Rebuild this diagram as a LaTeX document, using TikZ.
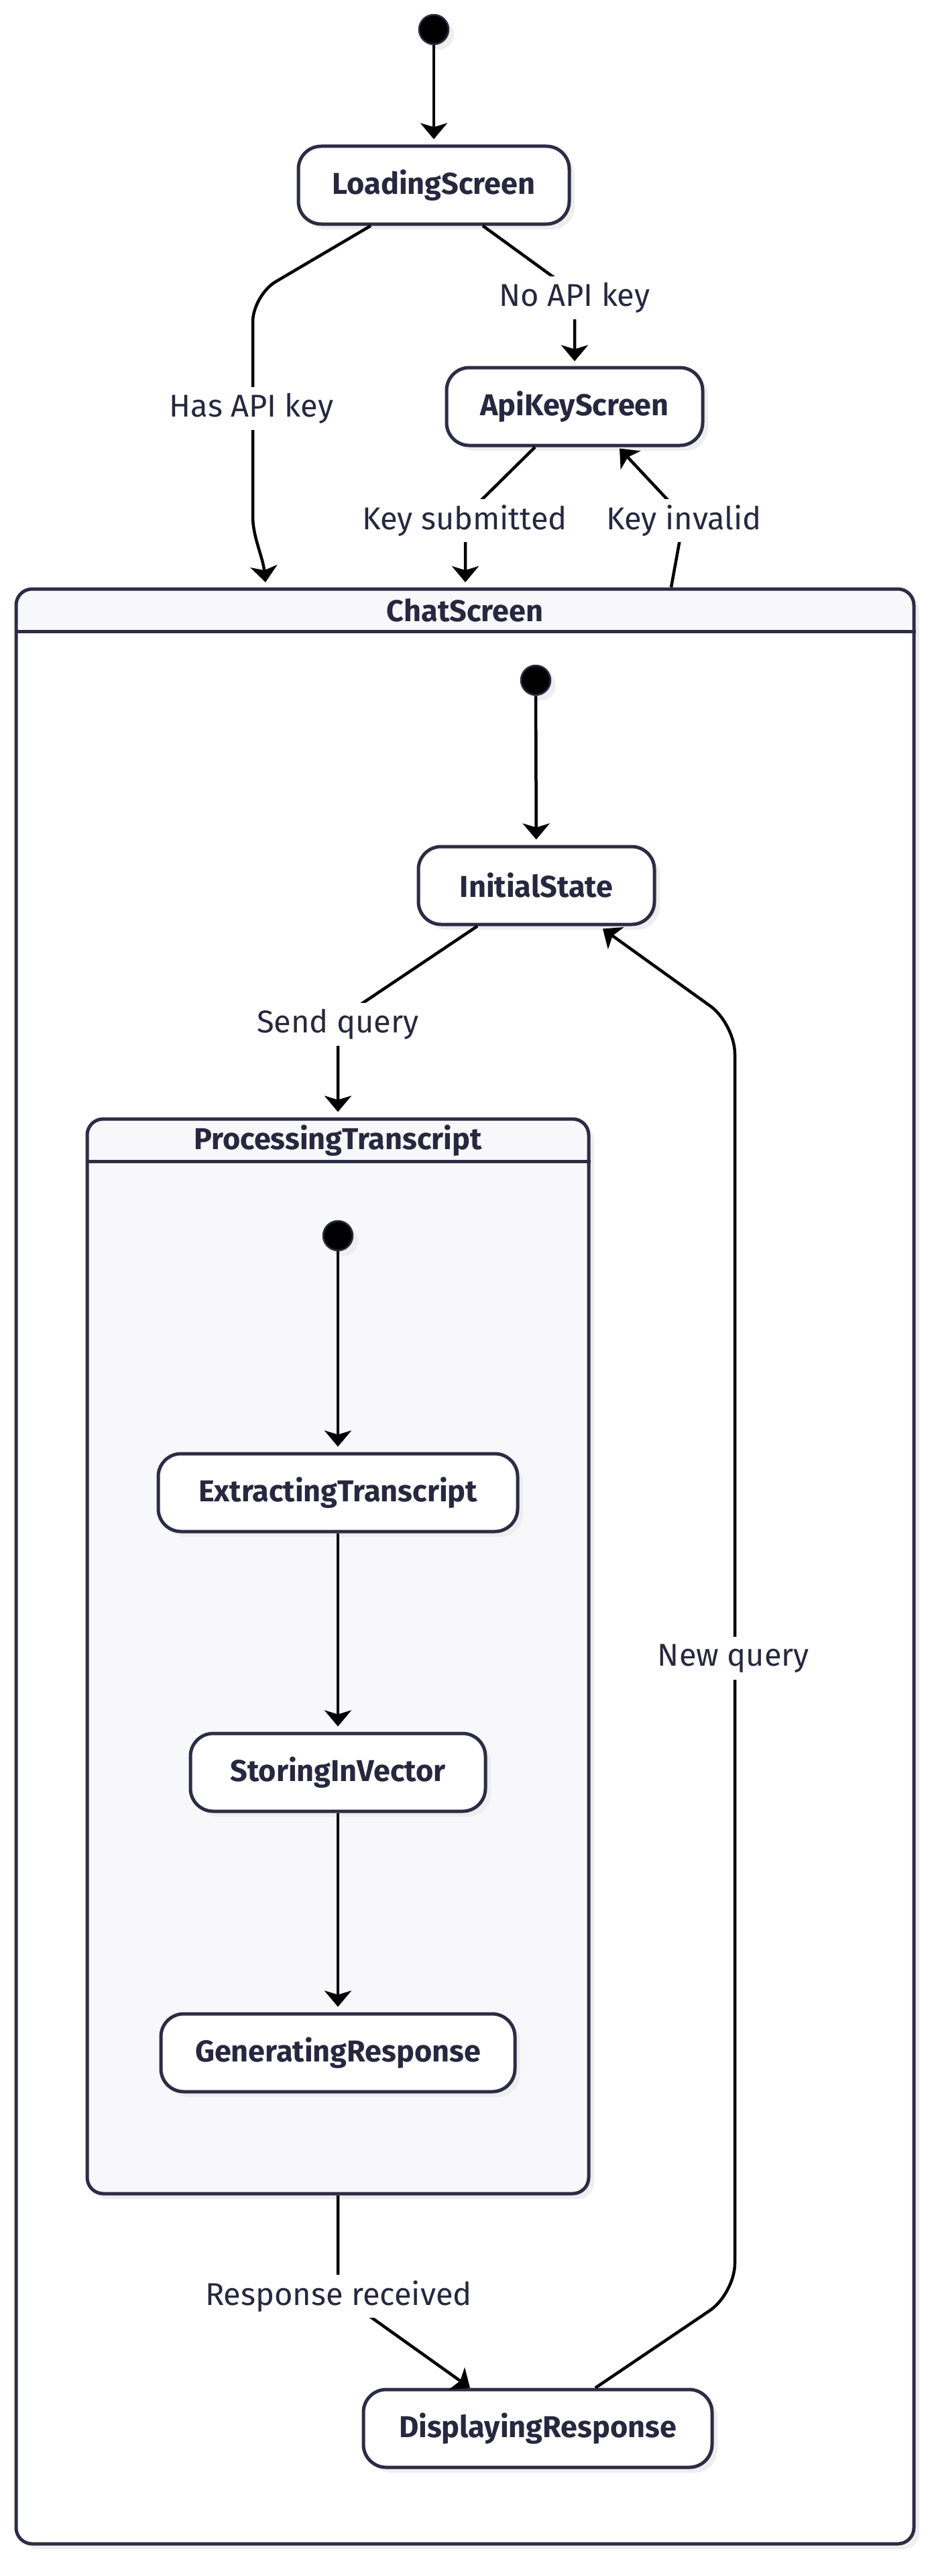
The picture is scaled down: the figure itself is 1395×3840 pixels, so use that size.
\documentclass[tikz,border=0pt]{standalone}
\usepackage{fontspec}
\setmainfont{Fira Sans}
\usetikzlibrary{arrows.meta,shadows,calc}
\definecolor{sc}{HTML}{2C2C44}
\definecolor{tc}{HTML}{27273F}
\definecolor{hdr}{HTML}{F8F8FA}
\definecolor{shc}{HTML}{EEEEEE}
\begin{document}
\begin{tikzpicture}[x=1pt,y=-1pt,
  shad/.style={drop shadow={shadow xshift=8pt,shadow yshift=-8pt,fill=shc,opacity=1}},
  st/.style={rectangle,draw=sc,line width=5pt,fill=white,rounded corners=34pt,inner sep=0pt,
    text=tc,font=\bfseries\fontsize{45}{52}\selectfont,minimum height=116pt,shad},
  init/.style={circle,fill=black,draw=sc,line width=2.5pt,minimum size=44pt,inner sep=0pt,shad},
  comp/.style={rectangle,draw=sc,line width=5pt,rounded corners=24pt,inner sep=0pt,shad},
  arr/.style={draw=black,line width=4.5pt,-{Stealth[length=24pt,width=40pt,inset=6pt]}},
  lbl/.style={fill=white,text=tc,font=\fontsize{47}{54}\selectfont,inner xsep=4pt,inner ysep=0pt,minimum height=64pt},
  ttl/.style={text=tc,font=\bfseries\fontsize{45}{52}\selectfont,inner sep=0pt}]
\useasboundingbox (0,0) rectangle (1395,3840);
\fill[white] (0,0) rectangle (1395,3840);

% composite ChatScreen
\node[comp,fill=white,minimum width=1339pt,minimum height=2914pt,
  path picture={\fill[hdr] (path picture bounding box.north west) rectangle ([yshift=-64pt]path picture bounding box.north east);}]
  (cs) at (693.5,2335) {};
\draw[sc,line width=5pt] ([yshift=-66pt]cs.north west) -- ([yshift=-66pt]cs.north east);
\node[ttl] (cst) at (693.5,910) {ChatScreen};

% composite ProcessingTranscript
\node[comp,fill=hdr,minimum width=748pt,minimum height=1602pt] (pt) at (504,2469) {};
\draw[sc,line width=5pt] ([yshift=-66pt]pt.north west) -- ([yshift=-66pt]pt.north east);
\node[ttl] (ptt) at (504,1700) {ProcessingTranscript};

% states
\node[init] (s1) at (647,44) {};
\node[st,minimum width=404pt] (ls) at (647,276) {LoadingScreen};
\node[st,minimum width=382pt] (aks) at (857,606) {ApiKeyScreen};
\node[init] (s2) at (799,1014) {};
\node[st,minimum width=352pt] (is) at (800,1320) {InitialState};
\node[init] (s3) at (504,1842) {};
\node[st,minimum width=536pt] (et) at (504,2225) {ExtractingTranscript};
\node[st,minimum width=440pt] (siv) at (504,2642) {StoringInVector};
\node[st,minimum width=528pt] (gr) at (504,3060) {GeneratingResponse};
\node[st,minimum width=520pt] (dr) at (802,3620) {DisplayingResponse};

% edges
\draw[arr,shorten >=8pt] (s1) -- (ls);
\draw[arr,rounded corners=40pt] ($(ls.south)+(-94,0)$) -- (377,440) -- (377,730)
   .. controls (377,800) and (392,830) .. ($(cs.north west)+(374.5,-7.5)$);
\draw[arr] ($(ls.south)+(73,0)$) -- (857,436) -- ($(aks.north)+(0,-7)$);
\draw[arr] ($(aks.south)+(-59,0)$) -- (694,769) -- ($(cs.north west)+(672.5,-7.5)$);
\draw[arr] ($(cs.north west)+(979.5,0)$) -- (1020,771) -- ($(aks.south)+(67,2)$);
\draw[arr,shorten >=8pt] (s2) -- (is);
\draw[arr] ($(is.south)+(-88,0)$) -- (504,1520) -- ($(pt.north)+(0,-8)$);
\draw[arr,shorten >=8pt] (s3) -- (et);
\draw[arr,shorten >=8pt] (et) -- (siv);
\draw[arr,shorten >=8pt] (siv) -- (gr);
\draw[arr] (pt.south) -- (504,3419) -- ($(dr.north)+(-101,0)$);
\draw[arr,rounded corners=45pt] ($(dr.north)+(86,0)$) -- (1096,3419) -- (1096,1526) -- ($(is.south)+(99,4)$);

% labels
\node[lbl] (lhas) at (375,609) {Has API key};
\node[lbl] (lno) at (857,444) {No API key};
\node[lbl] (lks) at (693,776) {Key submitted};
\node[lbl] (lki) at (1020,776) {Key invalid};
\node[lbl] (lsq) at (504,1527) {Send query};
\node[lbl] (lrr) at (505,3423) {Response received};
\node[lbl] (lnq) at (1094,2472) {New query};
\end{tikzpicture}
\end{document}
